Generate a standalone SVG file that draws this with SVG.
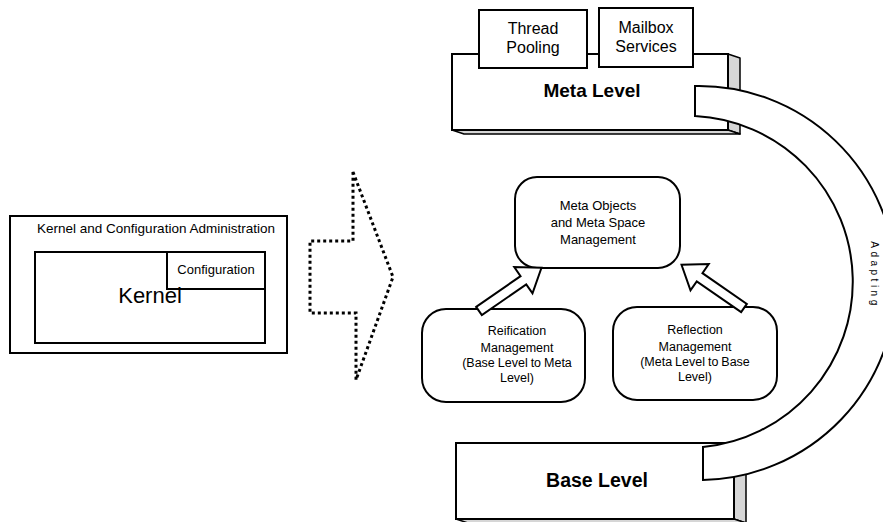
<svg xmlns="http://www.w3.org/2000/svg" width="883" height="522" viewBox="0 0 883 522">
  <style>
    .box { fill: #fff; stroke: #000; stroke-width: 2; }
    .side { fill: #d6d6d6; stroke: #000; stroke-width: 1.5; stroke-linejoin: round; }
    .lbl { font-family: "Liberation Sans", Arial, sans-serif; fill: #000; text-anchor: middle; }
    .bold { font-weight: bold; }
    .mgmt { font-size: 12.5px; word-spacing: -0.5px; }
    .dots { fill: none; stroke: #000; stroke-width: 3; stroke-dasharray: 3 3; }
    .block { fill: #fff; stroke: #000; stroke-width: 2; stroke-linejoin: miter; }
  </style>

  <rect width="883" height="522" fill="#fff"/>

  <!-- Kernel and configuration administration -->
  <g id="kernel-admin">
    <rect class="box" x="10" y="216" width="277" height="137"/>
    <text class="lbl" x="156" y="233" font-size="13.5">Kernel and Configuration Administration</text>
    <g id="kernel">
      <rect class="box" x="35" y="252" width="230" height="91" stroke-width="2.5"/>
    </g>
    <g id="configuration">
      <rect class="box" x="167" y="252" width="98" height="37"/>
      <text class="lbl" x="216" y="274" font-size="13">Configuration</text>
    </g>
    <text class="lbl" x="150" y="303" font-size="22">Kernel</text>
  </g>

  <!-- Dotted transition arrow -->
  <g id="transition-arrow">
    <path class="dots" d="M353,172 L393,277 L356,380 L356,313 L310,313 L310,241 L353,241 Z"/>
  </g>

  <!-- Meta level slab with its services -->
  <g id="meta-level">
    <polygon class="side" points="728,54 740,58 740,134 728,130"/>
    <polygon class="side" points="452,130 728,130 740,134 464,134"/>
    <rect class="box" x="452" y="54" width="276" height="76"/>
    <text class="lbl bold" x="592" y="97" font-size="19">Meta Level</text>
  </g>
  <g id="thread-pooling">
    <rect class="box" x="479" y="10" width="108" height="58"/>
    <text class="lbl" x="533" y="34" font-size="16">Thread</text>
    <text class="lbl" x="533" y="53" font-size="16">Pooling</text>
  </g>
  <g id="mailbox-services">
    <rect class="box" x="599" y="8" width="94" height="59"/>
    <text class="lbl" x="646" y="33" font-size="16">Mailbox</text>
    <text class="lbl" x="646" y="52" font-size="16">Services</text>
  </g>

  <!-- Base level slab -->
  <g id="base-level">
    <polygon class="side" points="734,443 746,447 746,523 734,519"/>
    <polygon class="side" points="456,519 734,519 746,523 468,523"/>
    <rect class="box" x="456" y="443" width="278" height="76"/>
    <text class="lbl bold" x="597" y="487" font-size="19.5">Base Level</text>
  </g>

  <!-- Adapting band joining the two levels -->
  <g id="adapting">
    <path class="box" d="M695,86 A197,197 0 0 1 703,480 L703,447 A166,166 0 0 0 695,116 Z"/>
    <text class="lbl" transform="translate(871,275) rotate(90)" font-size="10" letter-spacing="3.5">Adapting</text>
  </g>

  <!-- Management components -->
  <g id="meta-objects">
    <rect class="box" x="515" y="177" width="165" height="91" rx="22"/>
    <text class="lbl" x="598" y="210" font-size="13">Meta Objects</text>
    <text class="lbl" x="598" y="227" font-size="13">and Meta Space</text>
    <text class="lbl" x="598" y="244" font-size="13">Management</text>
  </g>
  <g id="reification">
    <rect class="box" x="422" y="309" width="163" height="93" rx="24"/>
    <text class="lbl mgmt" x="517" y="335">Reification</text>
    <text class="lbl mgmt" x="517" y="352">Management</text>
    <text class="lbl mgmt" x="517" y="367">(Base Level to Meta</text>
    <text class="lbl mgmt" x="517" y="382">Level)</text>
  </g>
  <g id="reflection">
    <rect class="box" x="613" y="307" width="164" height="93" rx="24"/>
    <text class="lbl mgmt" x="695" y="334">Reflection</text>
    <text class="lbl mgmt" x="695" y="351">Management</text>
    <text class="lbl mgmt" x="695" y="366">(Meta Level to Base</text>
    <text class="lbl mgmt" x="695" y="381">Level)</text>
  </g>

  <!-- Hollow block arrows into the meta objects component -->
  <g id="connectors">
    <defs>
      <path id="block-arrow" d="M0,-5 L54,-5 L54,-16 L76,0 L54,16 L54,5 L0,5 Z"/>
    </defs>
    <use href="#block-arrow" class="block" transform="translate(479,311) rotate(-34.7)"/>
    <use href="#block-arrow" class="block" transform="translate(744,308) rotate(-145.3)"/>
  </g>
</svg>
